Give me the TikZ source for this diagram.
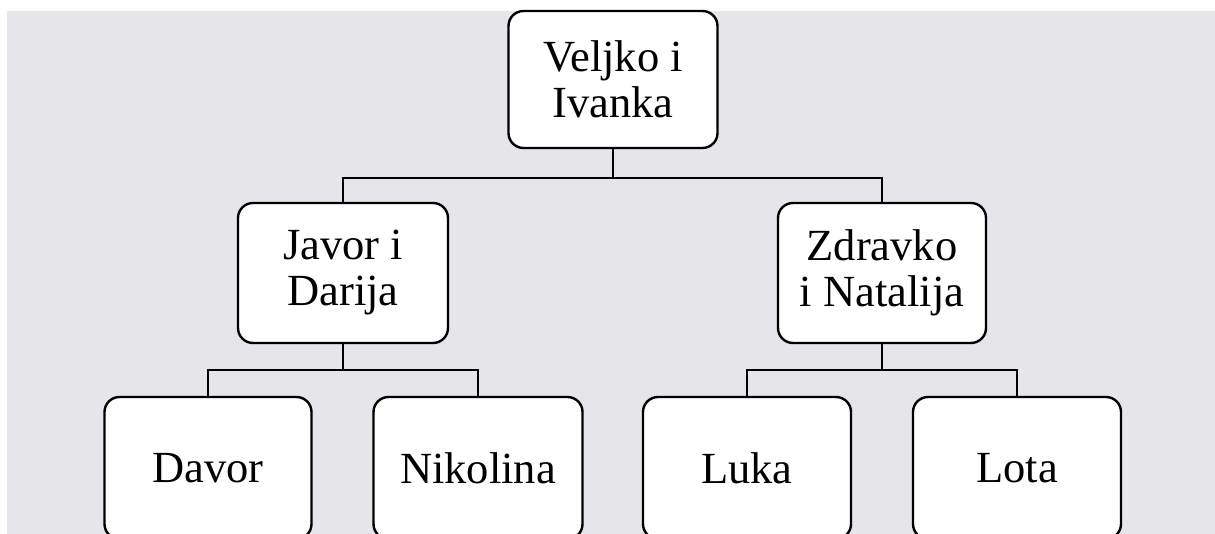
\documentclass[tikz,border=0pt]{standalone}
\usepackage{fontspec}
\setmainfont{Liberation Serif}
\definecolor{bg}{RGB}{229,229,234}
\begin{document}
\begin{tikzpicture}[x=1pt,y=-1pt,
  person/.style={draw=black, fill=white, line width=2.4pt, rounded corners=15pt,
    align=center, inner sep=0pt, font=\fontsize{44.5}{46}\selectfont},
  link/.style={draw=black, line width=2pt}]
\useasboundingbox (0,0) rectangle (1215,534);
\fill[bg] (7,11) rectangle (1215,534);
\clip (0,0) rectangle (1215,534);
\node[person, minimum width=209pt, minimum height=137pt] (vi) at (613,79.5) {Veljko i\\Ivanka};
\node[person, minimum width=210pt, minimum height=140pt] (jd) at (343,273) {Javor i\\Darija};
\node[person, minimum width=208pt, minimum height=140pt] (zn) at (882,273) {Zdravko\\i Natalija};
\node[person, minimum width=207pt, minimum height=142pt] (da) at (208,468) {Davor};
\node[person, minimum width=209pt, minimum height=142pt] (ni) at (478,468) {Nikolina};
\node[person, minimum width=208pt, minimum height=142pt] (lu) at (747,468) {Luka};
\node[person, minimum width=208pt, minimum height=142pt] (lo) at (1017,468) {Lota};
\coordinate (b1) at (613,178);
\coordinate (b2) at (343,370);
\coordinate (b3) at (882,370);
\draw[link] (vi.south) -- (b1);
\draw[link] (b1) -| (jd.north);
\draw[link] (b1) -| (zn.north);
\draw[link] (jd.south) -- (b2);
\draw[link] (b2) -| (da.north);
\draw[link] (b2) -| (ni.north);
\draw[link] (zn.south) -- (b3);
\draw[link] (b3) -| (lu.north);
\draw[link] (b3) -| (lo.north);
\end{tikzpicture}
\end{document}
